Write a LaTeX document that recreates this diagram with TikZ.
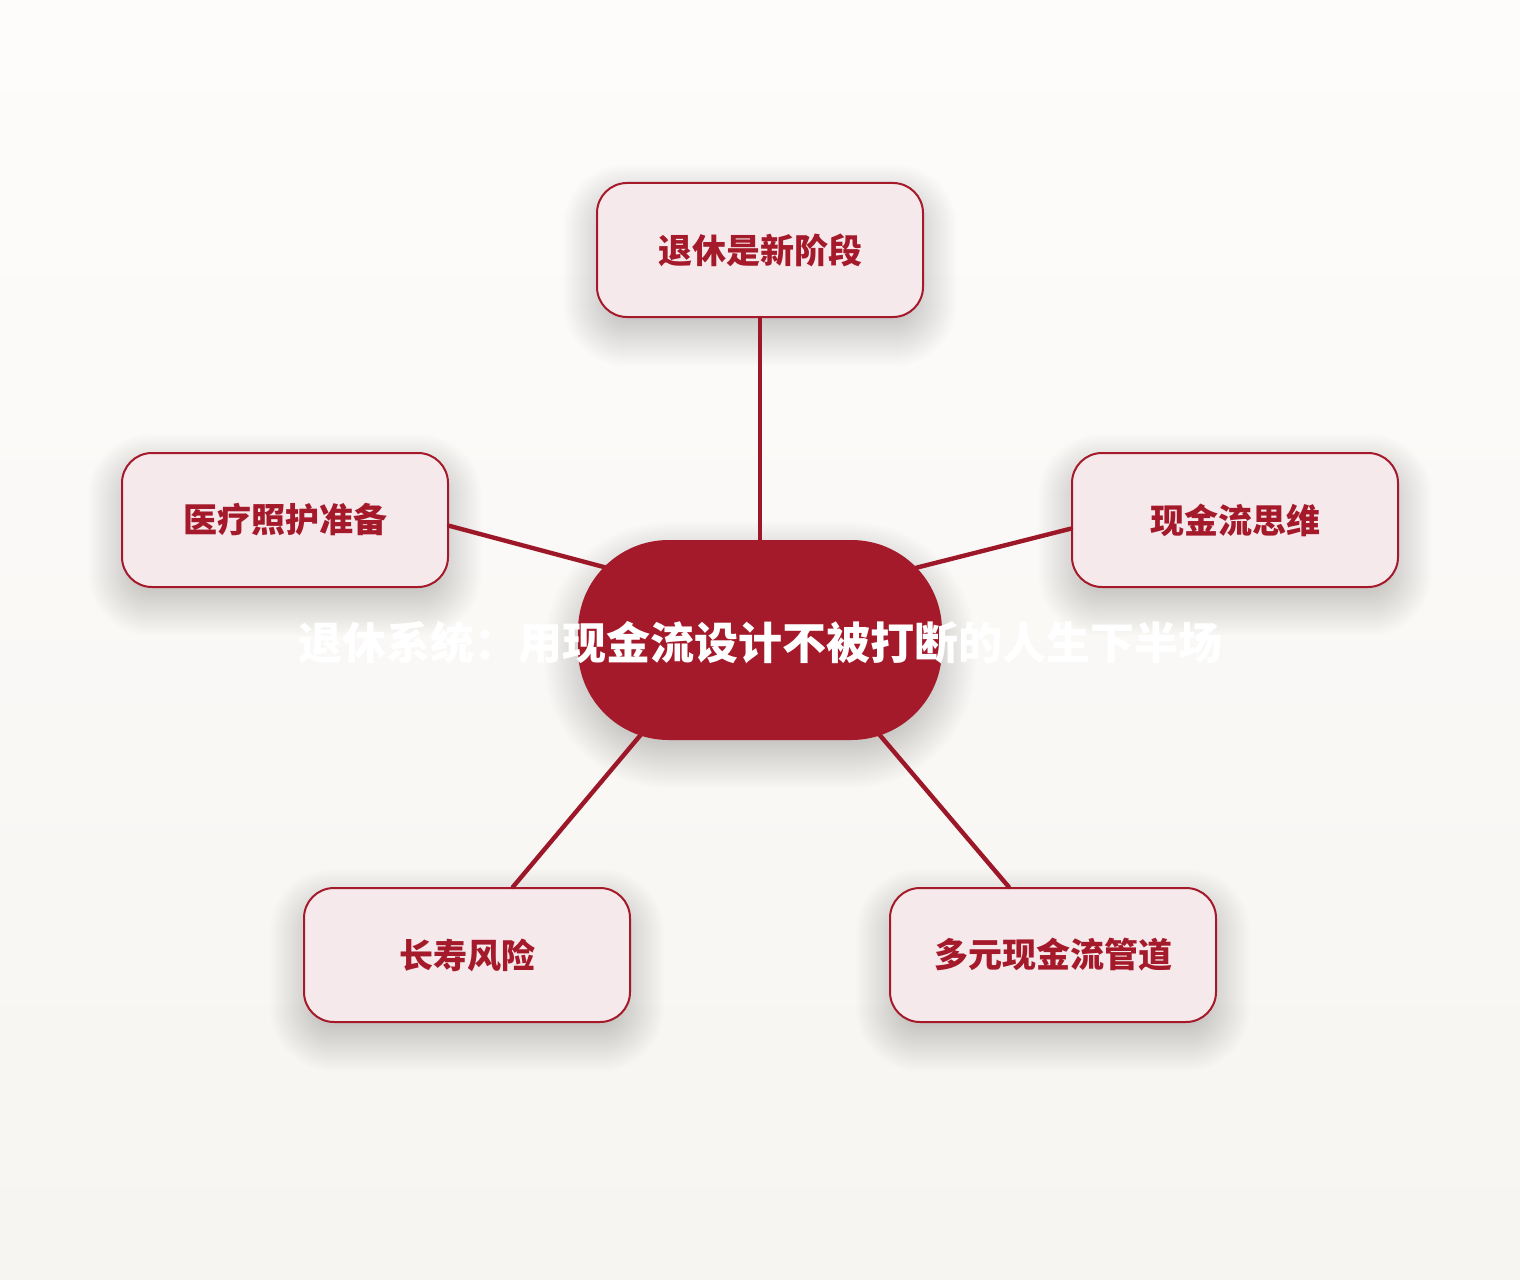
\documentclass[tikz,border=0pt]{standalone}
\usepackage{fontspec}
\setmainfont{Noto Sans CJK SC}
\usetikzlibrary{backgrounds,calc}
\definecolor{maroon}{HTML}{A51A2A}
\definecolor{linkred}{HTML}{9C1828}
\definecolor{lightpink}{HTML}{F5E9EC}
\definecolor{bgtop}{HTML}{FDFCFB}
\definecolor{bgbot}{HTML}{F7F5F1}
\tikzset{
  leaf/.style={draw=maroon, line width=1.5pt, fill=lightpink, rounded corners=22.5pt,
    minimum width=244.5pt, minimum height=100.5pt, inner sep=0pt,
    text=maroon, font=\fontsize{25.5}{30}\selectfont\bfseries},
  hub/.style={fill=maroon, rounded corners=68pt, minimum width=273pt, minimum height=150pt,
    inner sep=0pt},
  hubtext/.style={text=white, font=\fontsize{33}{38}\selectfont\bfseries, inner sep=0pt},
  link/.style={draw=linkred, line width=3.3pt, line cap=round},
  shadowlayer/.style={fill=black, opacity=0.0065}
}
\newcommand\softshadow[2]{%
  \foreach \i in {0,...,24}{%
    \pgfmathsetmacro\dd{-15+\i*2}%
    \pgfmathsetmacro\rr{max(#2+\dd*0.75,3)}%
    \fill[shadowlayer, rounded corners=\rr pt]
      ($(#1.south west)+(-\dd,15+\dd)$) rectangle ($(#1.north east)+(\dd,15-\dd)$);
  }%
}
\begin{document}
\begin{tikzpicture}[x=0.75pt,y=-0.75pt]
\begin{pgfonlayer}{background}
\fill[top color=bgtop, bottom color=bgbot] (0,0) rectangle (1520,1280);
\end{pgfonlayer}
\useasboundingbox (0,0) rectangle (1520,1280);
\node[leaf] (t) at (760,250) {退休是新阶段};
\node[leaf] (l) at (285,520) {医疗照护准备};
\node[leaf] (r) at (1235,520) {现金流思维};
\node[leaf] (bl) at (467,955) {长寿风险};
\node[leaf] (br) at (1053,955) {多元现金流管道};
\coordinate (ct) at (760,580);
\coordinate (cl) at (660,582);
\coordinate (cr) at (860,582);
\coordinate (cbl) at (670,700);
\coordinate (cbr) at (850,700);
\draw[link] (t.south) -- (ct);
\draw[link] (l.-2.5) -- (cl);
\draw[link] (r.183) -- (cr);
\draw[link] (bl.56.7) -- (cbl);
\draw[link] (br.123.9) -- (cbr);
\node[hub] (c) at (760,640) {};
\node[hubtext] (ctext) at (760,643) {退休系统：用现金流设计不被打断的人生下半场};
\begin{pgfonlayer}{background}
\softshadow{t}{22.5}
\softshadow{l}{22.5}
\softshadow{r}{22.5}
\softshadow{bl}{22.5}
\softshadow{br}{22.5}
\softshadow{c}{68}
\end{pgfonlayer}
\end{tikzpicture}
\end{document}
